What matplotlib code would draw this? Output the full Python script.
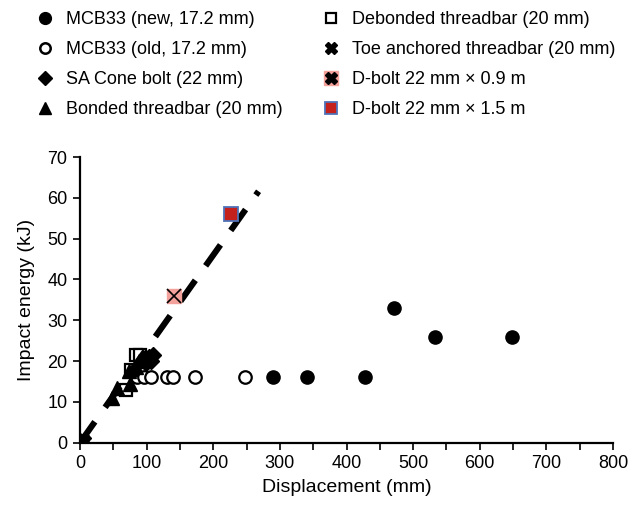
import matplotlib
matplotlib.use("Agg")
import matplotlib.pyplot as plt
from matplotlib.lines import Line2D

plt.rcParams['font.family'] = ['Liberation Sans', 'DejaVu Sans']

# ---- data ----
mcb_new_x = [290, 340, 428, 472, 533, 648]
mcb_new_y = [16, 16, 16, 33, 26, 26]

mcb_old_x = [85, 96, 106, 130, 139, 173, 248]
mcb_old_y = [16, 16, 16, 16, 16, 16, 16]

sa_cone_x = [2, 99, 103, 107, 110]
sa_cone_y = [0, 19.5, 21, 20, 21.5]

bonded_x = [3, 48, 55, 74, 75, 84, 88]
bonded_y = [0.5, 11, 13.5, 17.5, 14.5, 18.5, 20]

debonded_x = [69, 77, 84, 90]
debonded_y = [13, 17.8, 21.5, 21.5]

toe_x = [4, 7]
toe_y = [1, 0.3]

dbolt09_x = [141]
dbolt09_y = [36]

dbolt15_x = [226]
dbolt15_y = [56]

trend_x = [0, 268]
trend_y = [0, 61.6]

legend_labels = ["MCB33 (new, 17.2 mm)", "MCB33 (old, 17.2 mm)",
                 "SA Cone bolt (22 mm)", "Bonded threadbar (20 mm)",
                 "Debonded threadbar (20 mm)", "Toe anchored threadbar (20 mm)",
                 "D-bolt 22 mm \u00d7 0.9 m", "D-bolt 22 mm \u00d7 1.5 m"]

pink = '#F2A19B'
red = '#C4201C'
blue = '#4F72B8'

fig = plt.figure(figsize=(6.3, 5.05), dpi=100)
W, H = 630, 505
ax = fig.add_axes([80 / W, 1 - 442.7 / H, (613 - 80) / W, (442.7 - 157) / H])

ax.plot(trend_x, trend_y, color='black', lw=4.4, linestyle=(0, (4.2, 2.9)),
        dash_capstyle='butt', zorder=5)

ax.plot(mcb_new_x, mcb_new_y, 'o', ms=9.5, mfc='black', mec='black', ls='none', zorder=3)
ax.plot(mcb_old_x, mcb_old_y, 'o', ms=9, mfc='white', mec='black', mew=1.6, ls='none', zorder=3)
ax.plot(debonded_x, debonded_y, 's', ms=8.5, mfc='white', mec='black', mew=1.6, ls='none', zorder=4)
ax.plot(bonded_x, bonded_y, '^', ms=9.5, mfc='black', mec='black', ls='none', zorder=4)
ax.plot(sa_cone_x, sa_cone_y, 'D', ms=8, mfc='black', mec='black', ls='none', zorder=4)
ax.plot(toe_x, toe_y, 'X', ms=8, mfc='black', mec='black', ls='none', zorder=4)
ax.plot(dbolt09_x, dbolt09_y, 's', ms=10, mfc=pink, mec=pink, ls='none', zorder=6)
ax.plot(dbolt09_x, dbolt09_y, 'x', ms=10, mec='black', mew=1.2, ls='none', zorder=7)
ax.plot(dbolt15_x, dbolt15_y, 's', ms=9.5, mfc=red, mec=blue, mew=1.3, ls='none', zorder=6)

ax.set_xlim(0, 800)
ax.set_ylim(0, 70)
ax.set_xticks(range(0, 801, 50))
ax.set_xticklabels([str(v) if v % 100 == 0 else '' for v in range(0, 801, 50)])
ax.set_yticks(range(0, 71, 10))
for s in ['top', 'right']:
    ax.spines[s].set_visible(False)
for s in ['left', 'bottom']:
    ax.spines[s].set_linewidth(1.6)
ax.tick_params(direction='out', length=5, width=1.2, labelsize=13, pad=4)
ax.set_xlabel("Displacement (mm)", fontsize=14, labelpad=5)
ax.set_ylabel("Impact energy (kJ)", fontsize=14, labelpad=9)

# legend handles
lh_new = Line2D([], [], marker='o', ms=8.5, mfc='black', mec='black', ls='none')
lh_old = Line2D([], [], marker='o', ms=7.5, mfc='white', mec='black', mew=1.8, ls='none')
lh_sa = Line2D([], [], marker='D', ms=7.5, mfc='black', mec='black', ls='none')
lh_tri = Line2D([], [], marker='^', ms=8.5, mfc='black', mec='black', ls='none')
lh_deb = Line2D([], [], marker='s', ms=7, mfc='white', mec='black', mew=1.6, ls='none')
lh_toe = Line2D([], [], marker='X', ms=8, mfc='black', mec='black', ls='none')
lh_d09s = Line2D([], [], marker='s', ms=9.5, mfc=pink, mec=pink, ls='none')
lh_d09x = Line2D([], [], marker='X', ms=8, mfc='black', mec='black', ls='none')
lh_d15 = Line2D([], [], marker='s', ms=8.5, mfc=red, mec=blue, mew=1.3, ls='none')

fs = 13
common = dict(frameon=False, fontsize=fs, handlelength=0.85, handletextpad=0.75,
              labelspacing=0.72, borderpad=0, borderaxespad=0, loc='upper left',
              bbox_transform=fig.transFigure)
leg1 = fig.legend([lh_new, lh_old, lh_sa, lh_tri], legend_labels[:4],
                  bbox_to_anchor=(37 / W, 1 - 11 / H), **common)
leg2 = fig.legend([lh_deb, lh_toe, (lh_d09s, lh_d09x), lh_d15], legend_labels[4:],
                  bbox_to_anchor=(323 / W, 1 - 11 / H), **common)

fig.savefig("out.png", dpi=100)
